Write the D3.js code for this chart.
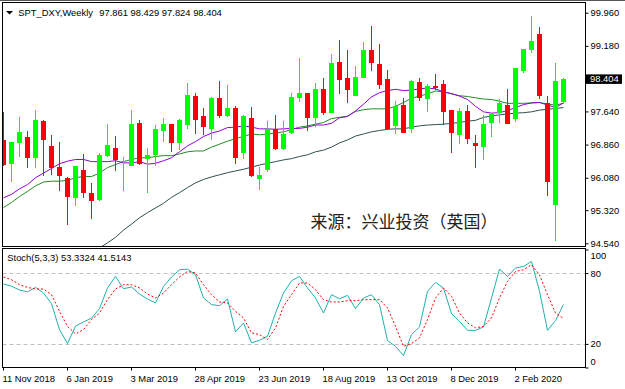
<!DOCTYPE html>
<html>
<head>
<meta charset="utf-8">
<title>SPT_DXY Weekly</title>
<script src="https://cdn.jsdelivr.net/npm/d3@7"></script>
<style>
body { margin: 0; background: #fff; }
svg { display: block; }
.lbl { font: 9.4px "Liberation Sans", Arial, sans-serif; fill: #000; }
.axis text { font: 9.4px "Liberation Sans", Arial, sans-serif; fill: #000; }
.axis line { stroke: #000; }
.src { font: 17px "Noto Sans CJK SC", sans-serif; fill: #222; }
</style>
</head>
<body>
<script>
// weekly candles, 11 Nov 2018 .. 15 Mar 2020
var open  = [96.97,96.40,96.90,97.05,96.55,97.41,96.83,96.33,96.07,95.61,
             96.26,95.72,95.56,96.59,96.78,96.46,96.36,97.36,96.52,96.62,
             97.18,97.34,96.89,97.32,98.00,97.53,97.23,97.96,97.53,97.72,
             96.67,97.49,96.05,96.26,97.23,96.76,97.13,97.95,98.07,97.48,
             98.17,97.61,98.79,98.42,98.01,98.43,99.08,98.75,98.39,97.30,
             97.78,97.22,98.33,97.92,98.24,98.28,97.67,97.08,97.65,96.89,
             96.81,97.37,97.61,97.79,97.45,98.59,99.08,99.46,97.83,95.44,
             97.861];
var high  = [97.63,96.93,97.52,97.19,97.67,97.44,97.08,96.92,96.11,96.36,
             96.64,95.95,96.66,97.34,97.06,96.57,97.67,97.44,96.79,97.32,
             97.49,97.34,97.47,98.30,98.07,97.72,97.97,98.36,98.26,97.77,
             97.55,97.75,96.34,97.41,97.56,97.41,98.08,98.89,98.07,98.30,
             98.42,98.98,99.33,99.08,98.71,99.26,99.65,99.22,98.61,97.89,
             97.96,98.38,98.42,98.28,98.52,98.38,97.67,97.73,97.79,97.08,
             97.56,97.61,97.92,98.16,98.65,99.11,99.88,99.62,98.00,98.78,
             98.429];
var low   = [96.36,95.99,96.57,96.32,96.32,96.13,96.15,95.77,94.97,95.42,
             95.61,95.11,95.54,96.57,96.24,95.77,96.36,96.39,95.72,96.36,
             96.93,96.69,96.73,97.22,97.12,97.09,96.97,97.49,97.50,96.40,
             96.52,96.11,95.79,96.21,96.73,96.73,97.11,97.85,97.18,97.28,
             97.56,97.60,98.04,97.83,98.01,98.42,98.60,98.16,97.20,97.10,
             97.13,97.13,97.89,97.63,98.14,97.32,96.67,96.87,96.87,96.32,
             96.50,97.05,97.36,97.34,97.40,98.55,99.01,97.92,95.65,94.60,
             97.824];
var close = [96.38,96.92,97.16,96.55,97.44,96.97,96.32,96.12,95.63,96.36,
             95.73,95.54,96.62,96.85,96.50,96.48,97.34,96.40,96.62,97.23,
             97.34,96.90,97.44,98.03,97.44,97.28,97.96,97.53,97.73,96.55,
             97.53,96.13,96.15,97.23,96.76,97.11,97.99,98.07,97.49,98.16,
             97.61,98.78,98.38,98.14,98.44,99.08,98.77,98.26,97.23,97.77,
             97.14,98.35,97.95,98.24,98.18,97.63,97.14,97.65,96.98,96.83,
             97.34,97.57,97.83,97.34,98.65,99.10,99.29,98.00,95.99,98.35,
             98.404];

// moving averages as drawn on the chart
var maFast = [95.61,95.69,95.82,95.92,96.08,96.19,96.30,96.41,96.47,96.51,
              96.51,96.46,96.46,96.46,96.48,96.43,96.43,96.46,96.40,96.42,
              96.48,96.55,96.69,96.83,96.93,97.05,97.13,97.18,97.26,97.27,
              97.30,97.27,97.23,97.23,97.22,97.23,97.24,97.24,97.27,97.32,
              97.32,97.36,97.49,97.52,97.65,97.81,97.98,98.08,98.13,98.16,
              98.13,98.14,98.17,98.19,98.17,98.10,98.06,98.00,97.92,97.76,
              97.63,97.60,97.61,97.66,97.73,97.80,97.84,97.85,97.79,97.73,
              97.84];
var maMid  = [95.38,95.50,95.64,95.76,95.89,95.98,96.00,96.00,96.02,96.08,
              96.11,96.11,96.19,96.32,96.39,96.46,96.51,96.55,96.55,96.58,
              96.60,96.60,96.64,96.69,96.71,96.71,96.80,96.87,96.94,97.00,
              97.05,97.11,97.09,97.11,97.13,97.16,97.21,97.27,97.30,97.34,
              97.38,97.47,97.50,97.53,97.64,97.68,97.70,97.70,97.70,97.76,
              97.85,97.95,98.00,98.05,98.12,98.10,98.05,98.01,97.99,97.96,
              97.93,97.92,97.88,97.83,97.83,97.83,97.84,97.85,97.81,97.79,
              97.83];
var maSlow = [null,null,null,null,null,null,null,null,null,null,
              null,null,94.43,94.55,94.68,94.85,94.99,95.14,95.26,95.37,
              95.48,95.62,95.73,95.85,95.96,96.04,96.10,96.15,96.20,96.24,
              96.28,96.33,96.38,96.42,96.46,96.50,96.53,96.58,96.62,96.69,
              96.73,96.80,96.90,96.97,97.06,97.11,97.16,97.19,97.22,97.23,
              97.23,97.27,97.30,97.32,97.33,97.34,97.36,97.38,97.41,97.43,
              97.50,97.53,97.56,97.58,97.60,97.61,97.63,97.67,97.69,97.71,
              97.73];

// Stoch(5,3,3)
var stochMain = [70.8,68.9,65.7,64.1,67.9,63.1,54.1,32.1,20.3,35.1,
                 38.6,41.8,49.9,67.4,77.2,66.8,68.2,62.3,58.1,54.7,
                 68.7,76.7,82.8,83.4,78.6,58.9,53.3,52.4,58.1,30.2,
                 37.8,20.9,23.1,26.5,46.2,63.1,73.5,77.2,67.4,58.9,
                 46.2,61.7,58.3,61.1,49.9,58.9,61.7,53.3,22.8,18.0,
                 10.1,27.9,34.4,64.5,72.1,67.4,45.6,39.1,31.5,31.5,
                 34.4,58.9,83.4,77.2,84.3,85.6,89.9,64.5,31.5,39.7,
                 53.3324];
var stochSignal = [76.7,74.4,70.2,67.9,66.5,66.5,61.7,47.6,34.9,28.5,
                   32.1,40.6,46.2,57.5,66.5,70.2,70.2,67.4,62.3,58.9,
                   63.1,70.2,76.7,81.4,80.1,70.2,61.7,55.5,54.7,47.6,
                   42.0,29.3,27.9,23.7,33.6,51.8,61.7,71.6,71.6,65.9,
                   57.5,55.5,55.5,56.6,56.6,57.5,57.5,57.5,50.5,34.9,
                   18.0,20.3,25.1,40.6,58.9,67.4,60.3,46.2,37.8,33.6,
                   34.9,42.0,58.9,73.0,81.4,82.8,87.1,78.6,61.7,46.2,
                   41.5143];

var priceTicks = [99.96, 99.18, 98.40, 97.64, 96.86, 96.08, 95.32, 94.54];
var stochTicks = [0, 20, 80, 100];
var stochLevels = [20, 80];
var dateLabels = ["11 Nov 2018", "6 Jan 2019", "3 Mar 2019", "28 Apr 2019", "23 Jun 2019",
                  "18 Aug 2019", "13 Oct 2019", "8 Dec 2019", "2 Feb 2020"];
var dateBars = [0, 8, 16, 24, 32, 40, 48, 56, 64];
var lastPrice = 98.404;

var width = 625, height = 389;
var paneL = 2.5, paneR = 585.5, mainT = 2.5, mainB = 246.5, stochT = 248.5, stochB = 367.5;

var svg = d3.select("body").append("svg")
    .attr("width", width)
    .attr("height", height);

var x = d3.scaleLinear().domain([0, close.length - 1]).range([3, 3 + 8 * (close.length - 1)]);
var y = d3.scaleLinear().domain([94.54, 99.96]).range([243.3, 12.7]);
var ys = d3.scaleLinear().domain([0, 100]).range([stochB, stochT + 1]);

var defs = svg.append("defs");
defs.append("clipPath").attr("id", "clipMain")
  .append("rect").attr("x", paneL).attr("y", mainT).attr("width", paneR - paneL).attr("height", mainB - mainT);
defs.append("clipPath").attr("id", "clipStoch")
  .append("rect").attr("x", paneL).attr("y", stochT).attr("width", paneR - paneL).attr("height", stochB - stochT);

// window frame
svg.append("line").attr("x1", 0).attr("x2", width).attr("y1", 0.5).attr("y2", 0.5)
    .attr("stroke", "#555");

// ---- main pane
var mainG = svg.append("g").attr("clip-path", "url(#clipMain)");

svg.append("text").attr("class", "src")
    .attr("x", 310.5).attr("y", 228)
    .text("来源：兴业投资（英国）");

var lineFor = function(scale) {
  return d3.line()
    .defined(function(d) { return d != null; })
    .x(function(d, i) { return x(i) + 0.5; })
    .y(function(d) { return scale(d); });
};

mainG.append("path").datum(maSlow)
    .attr("fill", "none").attr("stroke", "#2f4f4f").attr("stroke-width", 1)
    .attr("d", lineFor(y));
mainG.append("path").datum(maMid)
    .attr("fill", "none").attr("stroke", "#228b22").attr("stroke-width", 1)
    .attr("d", lineFor(y));
mainG.append("path").datum(maFast)
    .attr("fill", "none").attr("stroke", "#9400d3").attr("stroke-width", 1)
    .attr("d", lineFor(y));

var bars = d3.range(close.length).map(function(i) {
  return { i: i, o: open[i], h: high[i], l: low[i], c: close[i] };
});

var candle = mainG.selectAll("g.candle")
  .data(bars)
  .enter().append("g")
    .attr("class", "candle")
    .attr("shape-rendering", "crispEdges")
    .attr("fill", function(d) { return d.c >= d.o ? "#00ff00" : "#ff0000"; });

candle.append("rect")
    .attr("x", function(d) { return x(d.i); })
    .attr("y", function(d) { return y(d.h); })
    .attr("width", 1)
    .attr("height", function(d) { return Math.max(1, y(d.l) - y(d.h)); });

candle.append("rect")
    .attr("x", function(d) { return x(d.i) - 2; })
    .attr("y", function(d) { return y(Math.max(d.o, d.c)); })
    .attr("width", 5)
    .attr("height", function(d) { return Math.max(1.5, Math.abs(y(d.o) - y(d.c))); });

svg.append("rect")
    .attr("x", paneL).attr("y", mainT)
    .attr("width", paneR - paneL).attr("height", mainB - mainT)
    .attr("fill", "none").attr("stroke", "#000");

var priceAxis = svg.append("g").attr("class", "axis")
    .attr("transform", "translate(" + paneR + ",0)")
    .call(d3.axisRight(y).tickValues(priceTicks).tickSize(3).tickPadding(2)
          .tickFormat(d3.format(".3f")));
priceAxis.select(".domain").remove();

svg.append("rect")
    .attr("x", 586).attr("y", y(lastPrice) - 4.5)
    .attr("width", 36).attr("height", 9.5)
    .attr("fill", "#000");
svg.append("text").attr("class", "lbl")
    .attr("x", 590).attr("y", y(lastPrice) + 3.4)
    .style("fill", "#fff")
    .text(d3.format(".3f")(lastPrice));

// header
svg.append("path").attr("d", "M6,11L13,11L9.5,14.5Z").attr("fill", "#000");
svg.append("text").attr("class", "lbl").attr("x", 18.3).attr("y", 15.6).text("SPT_DXY,Weekly");
svg.append("text").attr("class", "lbl").attr("x", 99.3).attr("y", 15.6)
    .text([open, high, low, close].map(function(a) { return d3.format(".3f")(a[a.length - 1]); }).join(" "));

// ---- stochastic pane
var stochG = svg.append("g").attr("clip-path", "url(#clipStoch)");

stochG.selectAll("line.level")
  .data(stochLevels)
  .enter().append("line")
    .attr("class", "level")
    .attr("x1", paneL).attr("x2", paneR)
    .attr("y1", function(d) { return Math.round(ys(d)) + 0.5; })
    .attr("y2", function(d) { return Math.round(ys(d)) + 0.5; })
    .attr("stroke", "#c0c0c0").attr("stroke-dasharray", "4,3");

stochG.append("path").datum(stochMain)
    .attr("fill", "none").attr("stroke", "#20b2aa").attr("stroke-width", 1)
    .attr("d", lineFor(ys));
stochG.append("path").datum(stochSignal)
    .attr("fill", "none").attr("stroke", "#ff0000").attr("stroke-width", 1)
    .attr("stroke-dasharray", "2,2")
    .attr("d", lineFor(ys));

svg.append("rect")
    .attr("x", paneL).attr("y", stochT)
    .attr("width", paneR - paneL).attr("height", stochB - stochT)
    .attr("fill", "none").attr("stroke", "#000");

// tick marks from the axis, labels placed by hand (0 and 100 are pulled inside the pane)
var stochAxis = svg.append("g").attr("class", "axis")
    .attr("transform", "translate(" + paneR + ",0)")
    .call(d3.axisRight(ys).tickValues(stochTicks).tickSize(3).tickFormat(""));
stochAxis.select(".domain").remove();

svg.append("g").selectAll("text")
  .data(stochTicks)
  .enter().append("text")
    .attr("class", "lbl")
    .attr("x", paneR + 5)
    .attr("y", function(d) { return ys(d) + (d === 100 ? 6 : d === 0 ? -6 : 0) + 3.4; })
    .text(function(d) { return d; });

svg.append("text").attr("class", "lbl").attr("x", 7.3).attr("y", 261)
    .text("Stoch(5,3,3) " + stochMain[stochMain.length - 1].toFixed(4) + " " +
          stochSignal[stochSignal.length - 1].toFixed(4));

// ---- time axis
var dates = svg.append("g").selectAll("g")
  .data(dateBars)
  .enter().append("g");
dates.append("line")
    .attr("x1", function(d) { return x(d) + 0.5; })
    .attr("x2", function(d) { return x(d) + 0.5; })
    .attr("y1", stochB).attr("y2", stochB + 3)
    .attr("stroke", "#000");
dates.append("text").attr("class", "lbl")
    .attr("x", function(d) { return x(d) - 0.5; })
    .attr("y", 381.5)
    .text(function(d, i) { return dateLabels[i]; });
</script>
</body>
</html>
